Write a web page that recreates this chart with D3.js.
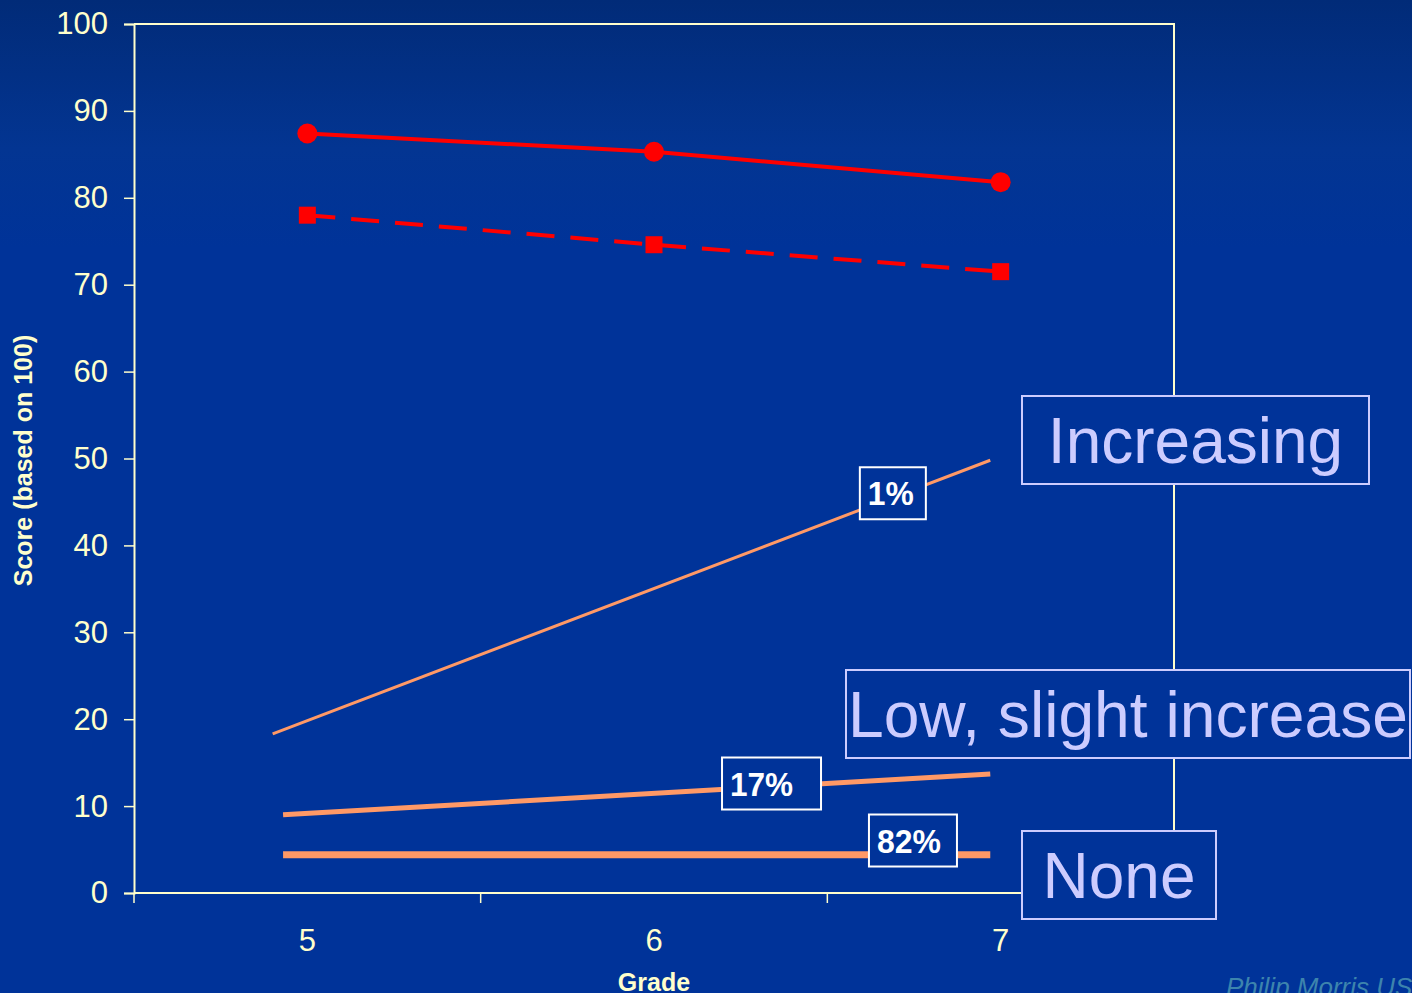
<!DOCTYPE html>
<html><head><meta charset="utf-8">
<script src="https://cdn.jsdelivr.net/npm/d3@7/dist/d3.min.js"></script>
<style>html,body{margin:0;padding:0;background:#003399;}svg{display:block;}</style>
</head><body>
<svg id="chart" width="1412" height="993"></svg>
<script>
// ---- data ----
const grades = [5, 6, 7];
const yTicks = [0, 10, 20, 30, 40, 50, 60, 70, 80, 90, 100];
const solidScores = [87.4, 85.3, 81.8];
const dashedScores = [78.0, 74.6, 71.5];
// trajectory groups (grade, score)
const increasingPts = [[4.9, 18.3], [6.97, 49.8]];
const lowPts = [[4.93, 9.0], [6.97, 13.7]];
const nonePts = [[4.93, 4.4], [6.97, 4.4]];
const groupShares = ["1%", "17%", "82%"];
const groupNames = ["Increasing", "Low, slight increase", "None"];
const yTitle = "Score (based on 100)";
const xTitle = "Grade";
const footer = "Philip Morris USA";

const svg = d3.select("#chart");
const W = 1412, H = 993;
const m = {left: 134, right: 1174, top: 24, bottom: 893};
const cream = "#ffffcc";
const FONT = "'Liberation Sans', Arial, sans-serif";

const defs = svg.append("defs");
const g = defs.append("linearGradient").attr("id","bg").attr("x1",0).attr("y1",0).attr("x2",0).attr("y2",1);
g.append("stop").attr("offset","0").attr("stop-color","#012b78");
g.append("stop").attr("offset","0.15").attr("stop-color","#033592");
g.append("stop").attr("offset","0.25").attr("stop-color","#003399");
g.append("stop").attr("offset","1").attr("stop-color","#003399");
svg.append("rect").attr("width",W).attr("height",H).attr("fill","url(#bg)");

const x = d3.scaleBand().domain(grades).range([m.left, m.right]);
const xc = d3.scaleLinear().domain([5, 7]).range([x(5) + x.bandwidth()/2, x(7) + x.bandwidth()/2]);
const y = d3.scaleLinear().domain([0, 100]).range([m.bottom, m.top]);

// frame top + right
svg.append("path").attr("d", `M${m.left},${m.top}H${m.right}V${m.bottom}`)
  .attr("fill","none").attr("stroke",cream).attr("stroke-width",2);

// y axis
const yAxis = svg.append("g").attr("transform",`translate(${m.left},0)`)
  .call(d3.axisLeft(y).tickValues(yTicks).tickSize(10).tickPadding(16));
yAxis.select(".domain").attr("stroke",cream).attr("stroke-width",2);
yAxis.selectAll(".tick line").attr("stroke",cream).attr("stroke-width",1.5);
yAxis.selectAll(".tick text").attr("fill",cream).attr("font-family",FONT).attr("font-size",31);

// x axis
const xAxis = svg.append("g").attr("transform",`translate(0,${m.bottom})`)
  .call(d3.axisBottom(x).tickSize(0).tickPadding(36));
xAxis.select(".domain").remove();
xAxis.selectAll(".tick text").attr("fill",cream).attr("font-family",FONT).attr("font-size",31);
svg.append("line").attr("x1",m.left).attr("x2",m.right).attr("y1",m.bottom).attr("y2",m.bottom)
  .attr("stroke",cream).attr("stroke-width",2);
const bounds = grades.map(d => x(d)).concat([m.right]);
svg.selectAll(".xb").data(bounds).join("line")
  .attr("x1",d=>d).attr("x2",d=>d).attr("y1",m.bottom).attr("y2",m.bottom+10)
  .attr("stroke",cream).attr("stroke-width",1.5);

// axis titles
svg.append("text").attr("transform",`translate(32,${(y(0)+y(100))/2+2}) rotate(-90)`)
  .attr("text-anchor","middle").attr("fill",cream).attr("font-weight","bold")
  .attr("font-family",FONT).attr("font-size",25).text(yTitle);
svg.append("text").attr("x",xc(6)).attr("y",991).attr("text-anchor","middle").attr("fill",cream)
  .attr("font-weight","bold").attr("font-family",FONT).attr("font-size",25).text(xTitle);

// trajectory lines
const orange = "#ff9966";
const lineC = d3.line().x(d=>xc(d[0])).y(d=>y(d[1]));
[[increasingPts,3],[lowPts,5],[nonePts,7]].forEach(([pts,w]) => {
  svg.append("path").attr("d", lineC(pts)).attr("fill","none").attr("stroke",orange).attr("stroke-width",w);
});

// red series
const red = "#ff0000";
const lineB = d3.line().x((d,i)=>x(grades[i]) + x.bandwidth()/2).y(d=>y(d));
svg.append("path").attr("d", lineB(solidScores)).attr("fill","none").attr("stroke",red).attr("stroke-width",4);
svg.append("path").attr("d", lineB(dashedScores)).attr("fill","none").attr("stroke",red).attr("stroke-width",4)
  .attr("stroke-dasharray","28,16");
svg.selectAll(".dot").data(solidScores).join("circle")
  .attr("cx",(d,i)=>x(grades[i])+x.bandwidth()/2).attr("cy",d=>y(d)).attr("r",10).attr("fill",red);
svg.selectAll(".sq").data(dashedScores).join("rect")
  .attr("x",(d,i)=>x(grades[i])+x.bandwidth()/2-8.5).attr("y",d=>y(d)-8.5)
  .attr("width",17).attr("height",17).attr("fill",red);

// share labels (placed at grade positions along the lines)
const shareAnchors = [[6.689, 46.0], [6.339, 12.6], [6.747, 6.04]];
const shareW = [66, 99, 88];
shareAnchors.forEach((a, i) => {
  const cx = xc(a[0]), cy = y(a[1]);
  svg.append("rect").attr("x",cx - shareW[i]/2).attr("y",cy - 26).attr("width",shareW[i]).attr("height",52)
    .attr("fill","#003399").attr("stroke","#ffffff").attr("stroke-width",2);
  svg.append("text").attr("x",cx - shareW[i]/2 + 8).attr("y",cy+12).attr("text-anchor","start").attr("fill","#ffffff")
    .attr("font-weight","bold").attr("font-family",FONT)
    .attr("font-size",33).attr("textLength", [46, 63, 64][i]).attr("lengthAdjust","spacingAndGlyphs")
    .text(groupShares[i]);
});

// group name boxes
const nameBoxes = [[1022, 396, 347, 88], [846, 670, 564, 88], [1022, 831, 194, 88]];
nameBoxes.forEach((b, i) => {
  svg.append("rect").attr("x",b[0]).attr("y",b[1]).attr("width",b[2]).attr("height",b[3])
    .attr("fill","#003399").attr("stroke","#ccccff").attr("stroke-width",2);
  svg.append("text").attr("x",b[0]+b[2]/2).attr("y",b[1]+b[3]/2+23).attr("text-anchor","middle")
    .attr("fill","#ccccff").attr("font-family",FONT)
    .attr("font-size",64).attr("textLength", i===1 ? 560 : null).attr("lengthAdjust","spacingAndGlyphs").text(groupNames[i]);
});

svg.append("text").attr("x",1226).attr("y",996).attr("fill","#3d84ad").attr("font-style","italic")
  .attr("font-family",FONT).attr("font-size",26).text(footer);
</script>
</body></html>
